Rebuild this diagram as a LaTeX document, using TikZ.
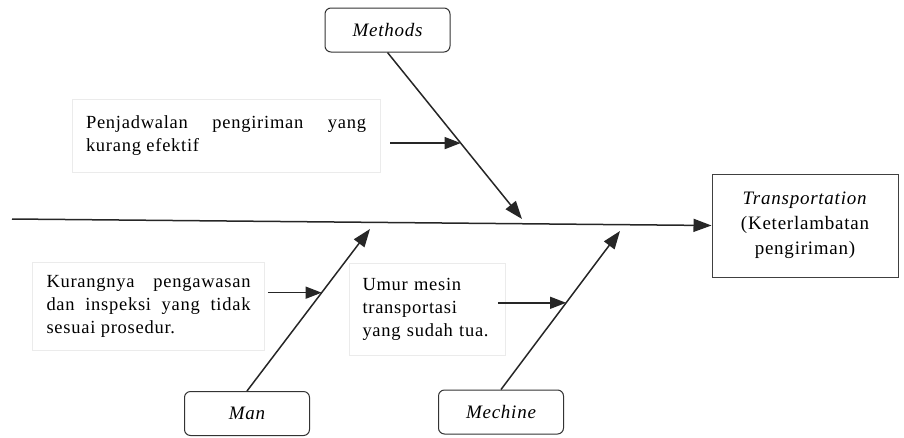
\documentclass[tikz,border=0pt]{standalone}
\usepackage{fontspec}
\setmainfont{Liberation Serif}[LetterSpace=4]
\usetikzlibrary{arrows.meta,calc}
\begin{document}
\begin{tikzpicture}[x=1pt,y=-1pt,
  bone/.style={line width=1.5pt,draw=black!85,-{Triangle[length=18pt,width=13pt]}},
  cause/.style={line width=1.4pt,draw=black!85,-{Triangle[length=16pt,width=12pt]}},
  category/.style={draw=black!80,line width=1pt,rounded corners=6pt,
    minimum width=125pt,minimum height=44pt,font=\fontsize{19}{23}\selectfont\itshape},
  note/.style={draw=black!8,line width=0.6pt,inner ysep=6pt,
    font=\fontsize{18.5}{23}\selectfont,
    execute at begin node={\hyphenpenalty=10000\relax\exhyphenpenalty=10000\relax}},
  effect/.style={draw=black!75,line width=1pt,minimum width=186pt,minimum height=103pt,
    align=center,font=\fontsize{19}{25}\selectfont}]
\useasboundingbox (0,0) rectangle (904,437);

% effect box and spine
\node[effect] (eff) at (805,225.5) {\textit{Transportation}\\(Keterlambatan\\pengiriman)};
\coordinate (tail) at (12,219);
\draw[bone] (tail) -- (eff.west);

% category boxes
\node[category] (methods) at (387.5,30) {Methods};
\node[category] (man) at (247,413.5) {Man};
\node[category] (machine) at (501,412) {Mechine};

% bone tips on the spine
\coordinate (mtip) at (522,219);
\coordinate (atip) at (370,229);
\coordinate (ctip) at (620,231);
\draw[bone] (methods.south) -- (mtip);
\draw[bone] (man.north) -- (atip);
\draw[bone] (machine.north) -- (ctip);

% points where the cause arrows meet the bones
\path (methods.south) -- (mtip) coordinate[pos=0.544] (mhit);
\path (man.north) -- (atip) coordinate[pos=0.607] (ahit);
\path (machine.north) -- (ctip) coordinate[pos=0.547] (chit);

% cause notes
\node[note,text width=280pt,inner xsep=14pt,align=justify,minimum height=73pt]
  (pj) at (226,135.5) {Penjadwalan pengiriman yang kurang efektif};
\node[note,text width=204pt,inner xsep=14pt,align=justify,minimum height=88pt]
  (kr) at (148.5,306) {Kurangnya pengawasan dan inspeksi yang tidak sesuai prosedur.};
\node[note,text width=130pt,inner xsep=13pt,align=left,minimum height=92pt]
  (um) at (427.5,309) {Umur mesin\\transportasi\\yang sudah tua.};

% cause arrows
\draw[cause] ($(pj.east |- mhit)+(10,0)$) -- (mhit);
\draw[cause] ($(kr.east |- ahit)+(3,0)$) -- (ahit);
\draw[cause] ($(um.east |- chit)+(-8,0)$) -- (chit);
\end{tikzpicture}
\end{document}
